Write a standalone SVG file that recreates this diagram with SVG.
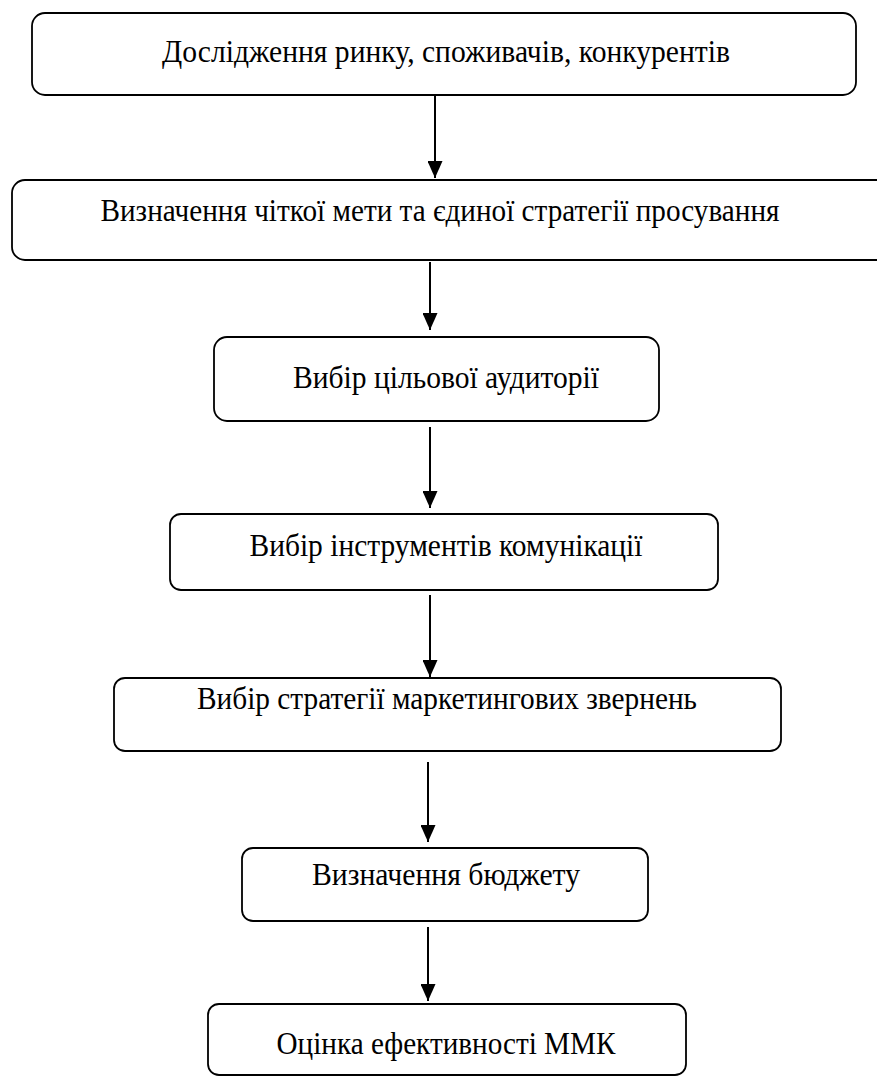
<svg xmlns="http://www.w3.org/2000/svg" width="877" height="1080" viewBox="0 0 877 1080">
  <style>
    .box { fill: #ffffff; stroke: #000000; stroke-width: 1.8; }
    .lbl { font-family: "Liberation Serif", "DejaVu Serif", serif; font-size: 32px; fill: #000000; text-anchor: middle; }
    .conn { stroke: #000000; stroke-width: 2; fill: none; }
  </style>
  <defs>
    <marker id="arrow" markerUnits="userSpaceOnUse" markerWidth="17" markerHeight="15" refX="17" refY="7.5" orient="auto">
      <path d="M0,0 L17,7.5 L0,15 Z" fill="#000000"/>
    </marker>
  </defs>
  <rect width="877" height="1080" fill="#ffffff"/>
  <g id="connectors">
    <line class="conn" x1="435" y1="96" x2="435" y2="178" marker-end="url(#arrow)"/>
    <line class="conn" x1="430" y1="262" x2="430" y2="330" marker-end="url(#arrow)"/>
    <line class="conn" x1="430" y1="427" x2="430" y2="508" marker-end="url(#arrow)"/>
    <line class="conn" x1="430" y1="595" x2="430" y2="677" marker-end="url(#arrow)"/>
    <line class="conn" x1="428" y1="762" x2="428" y2="842" marker-end="url(#arrow)"/>
    <line class="conn" x1="428" y1="927" x2="428" y2="1001" marker-end="url(#arrow)"/>
  </g>
  <g id="node1">
    <rect class="box" x="32" y="13" width="824" height="82" rx="13"/>
    <text class="lbl" x="446" y="62" textLength="568" lengthAdjust="spacingAndGlyphs">Дослідження ринку, споживачів, конкурентів</text>
  </g>
  <g id="node2">
    <rect class="box" x="12" y="180" width="880" height="80" rx="13"/>
    <text class="lbl" x="440" y="221" textLength="679" lengthAdjust="spacingAndGlyphs">Визначення чіткої мети та єдиної стратегії просування</text>
  </g>
  <g id="node3">
    <rect class="box" x="214" y="337" width="445" height="84" rx="13"/>
    <text class="lbl" x="446" y="388" textLength="306" lengthAdjust="spacingAndGlyphs">Вибір цільової аудиторії</text>
  </g>
  <g id="node4">
    <rect class="box" x="170" y="514" width="548" height="76" rx="11"/>
    <text class="lbl" x="446" y="556" textLength="393" lengthAdjust="spacingAndGlyphs">Вибір інструментів комунікації</text>
  </g>
  <g id="node5">
    <rect class="box" x="114" y="678" width="667" height="73" rx="11"/>
    <text class="lbl" x="447" y="709" textLength="500" lengthAdjust="spacingAndGlyphs">Вибір стратегії маркетингових звернень</text>
  </g>
  <g id="node6">
    <rect class="box" x="242" y="848" width="406" height="73" rx="11"/>
    <text class="lbl" x="446" y="885" textLength="268" lengthAdjust="spacingAndGlyphs">Визначення бюджету</text>
  </g>
  <g id="node7">
    <rect class="box" x="208" y="1004" width="478" height="71" rx="11"/>
    <text class="lbl" x="446" y="1054" textLength="339" lengthAdjust="spacingAndGlyphs">Оцінка ефективності ММК</text>
  </g>
</svg>
